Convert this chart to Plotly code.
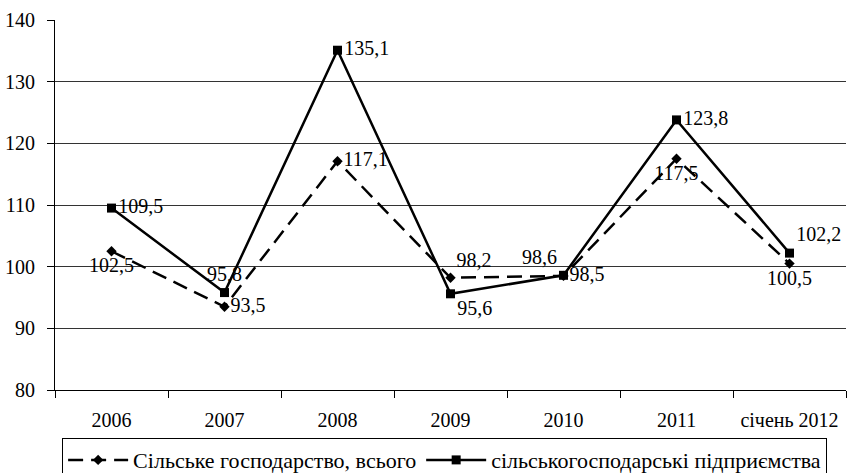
import plotly.graph_objects as go

categories = ["2006", "2007", "2008", "2009", "2010", "2011", "січень 2012"]
total = [102.5, 93.5, 117.1, 98.2, 98.5, 117.5, 100.5]
enterprises = [109.5, 95.8, 135.1, 95.6, 98.6, 123.8, 102.2]
total_labels = ["102,5", "93,5", "117,1", "98,2", "98,5", "117,5", "100,5"]
ent_labels = ["109,5", "95,8", "135,1", "95,6", "98,6", "123,8", "102,2"]

FONT = "Liberation Serif"

fig = go.Figure()
fig.add_trace(go.Scatter(
    x=categories, y=total, name="Сільське господарство, всього",
    mode="lines+markers+text",
    line=dict(color="black", width=2.5, dash="15px,8px"),
    marker=dict(symbol="diamond", size=8, color="black"),
    text=total_labels,
    textposition=["bottom center", "middle right", "middle right", "top right",
                  "middle right", "bottom center", "bottom center"],
    textfont=dict(family=FONT, size=20, color="black"),
))
fig.add_trace(go.Scatter(
    x=categories, y=enterprises, name="сільськогосподарські підприємства",
    mode="lines+markers+text",
    line=dict(color="black", width=2.5),
    marker=dict(symbol="square", size=9, color="black"),
    text=ent_labels,
    textposition=["middle right", "top center", "middle right", "bottom right",
                  "top left", "middle right", "top right"],
    textfont=dict(family=FONT, size=20, color="black"),
))

fig.update_layout(
    width=849, height=473,
    margin=dict(l=55, r=3, t=20, b=83, autoexpand=False),
    plot_bgcolor="white", paper_bgcolor="white",
    font=dict(family=FONT, size=20, color="black"),
    showlegend=True,
    legend=dict(
        orientation="h", x=0.009, xanchor="left", y=-0.13, yanchor="top",
        bordercolor="black", borderwidth=1,
        font=dict(family=FONT, size=22, color="black"),
        tracegroupgap=0, itemwidth=60,
    ),
)
fig.update_xaxes(
    type="category", range=[-0.5, 6.5], tickson="boundaries", ticks="outside",
    ticklen=7, tickcolor="black", showline=True, linecolor="black", linewidth=1,
    showgrid=False, ticklabelstandoff=12, automargin=False,
    tickfont=dict(family=FONT, size=20, color="black"),
)
fig.update_yaxes(
    range=[80, 140], dtick=10, ticks="outside", ticklen=7, tickcolor="black",
    showline=True, linecolor="black", linewidth=1, automargin=False,
    showgrid=True, gridcolor="#333333", gridwidth=1, ticklabelstandoff=8,
    tickfont=dict(family=FONT, size=20, color="black"),
    zeroline=False,
)

fig.write_html(
    "out.html",
    config={"displayModeBar": False},
    post_script="document.body.style.margin='0';document.body.style.overflow='hidden';",
)
